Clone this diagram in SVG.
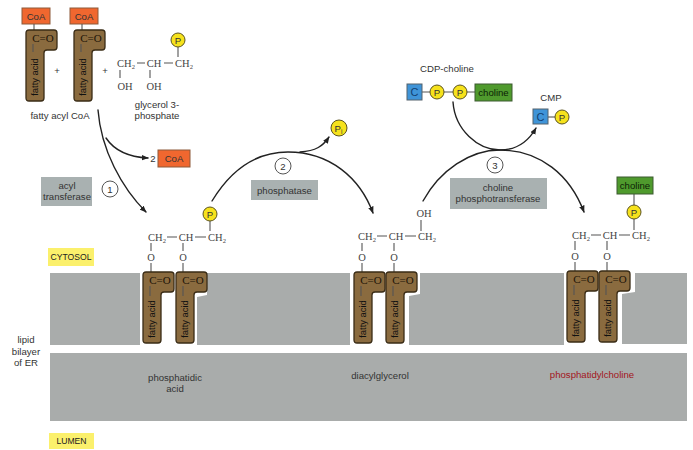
<svg xmlns="http://www.w3.org/2000/svg" width="693" height="450" viewBox="0 0 693 450">
<style>
text{font-family:"Liberation Sans",Arial,sans-serif;font-size:9.6px;fill:#333;text-anchor:middle}
.chem{font-family:"Liberation Serif","Times New Roman",serif;font-size:10.5px;fill:#444}
.co{font-family:"Liberation Serif","Times New Roman",serif;font-size:11px;fill:#1d1408}
.fa{font-size:9.4px;fill:#111}
.small{font-size:6.5px}
.tagtext{font-size:8.6px;fill:#222}
.bond{stroke:#555;stroke-width:1.1;fill:none}
.tail{fill:#8a6b3f;stroke:#3a2c16;stroke-width:1.3}
.mem{fill:#a9acab}
.enz{fill:#a9b1b1}
.tag{fill:#fbf06c}
.coa{fill:#f0672f;stroke:#8d5a3a;stroke-width:1}
.cmp{fill:#3f94d8;stroke:#54626c;stroke-width:1}
.chol{fill:#4f9a2d;stroke:#3d5a30;stroke-width:1}
.pho{fill:#f6e21c;stroke:#5b5320;stroke-width:1}
.num{fill:#fff;stroke:#555;stroke-width:1}
.flow{fill:none;stroke:#222;stroke-width:1.4;stroke-linecap:round}
</style>
<defs>
<marker id="head" viewBox="0 0 10 8" refX="9" refY="4" markerWidth="7" markerHeight="6" markerUnits="userSpaceOnUse" orient="auto">
<path d="M0 0L10 4L0 8Z" fill="#222"/>
</marker>
<path id="acyl" d="M3 0H28Q31 0 31 3V17Q31 20 28 20H21Q18 20 18 23V68Q18 71 15 71H3Q0 71 0 68V3Q0 0 3 0Z"/>
</defs>

<g id="membrane">
<path class="mem" d="M50 273H140V345H50Z"/>
<path class="mem" d="M207 273H350V345H197V297L207 295Z"/>
<path class="mem" d="M420 273H564V345H409V296L420 294Z"/>
<path class="mem" d="M635 273H687V344H622V294L635 292Z"/>
<rect class="mem" x="50" y="353" width="637" height="68"/>
</g>

<g id="connectors">
<path class="flow" marker-end="url(#head)" d="M98 110C101 150 122 188 146 212"/>
<path class="flow" marker-end="url(#head)" d="M106 138C114 150 128 157 148 158"/>
<path class="flow" marker-end="url(#head)" d="M212 201C232 168 258 152 288 152C330 152 360 178 373 213"/>
<path class="flow" marker-end="url(#head)" d="M300 152C316 151 323 146 329 137"/>
<path class="flow" marker-end="url(#head)" d="M423 201C440 170 470 150 500 150C540 150 570 175 584 212"/>
<path class="flow" marker-end="url(#head)" d="M453 102C455 130 478 150 500 150C516 150 528 142 536 128"/>
</g>

<g id="coa-1">
<rect class="coa" x="22" y="8" width="28" height="16"/>
<text x="36" y="19.500">CoA</text>
<path class="bond" d="M34 24V30"/>
</g>
<g id="acyl-1" transform="translate(26 30)">
<use href="#acyl" class="tail"/>
<text class="co" x="17" y="12">C=O</text>
<path class="bond" d="M7 14V22"/>
<text class="fa" transform="translate(12 47) rotate(-90)">fatty acid</text>
</g>
<g id="coa-2">
<rect class="coa" x="70" y="8" width="28" height="16"/>
<text x="84" y="19.500">CoA</text>
<path class="bond" d="M82 24V30"/>
</g>
<g id="acyl-2" transform="translate(74 30)">
<use href="#acyl" class="tail"/>
<text class="co" x="17" y="12">C=O</text>
<path class="bond" d="M7 14V22"/>
<text class="fa" transform="translate(12 47) rotate(-90)">fatty acid</text>
</g>
<text x="57" y="74">+</text>
<text x="105" y="74">+</text>
<text x="60" y="119">fatty acyl CoA</text>

<g id="glycerol-3-phosphate">
<text class="chem" x="126" y="67">CH<tspan class="small" dy="2">2</tspan></text>
<path class="bond" d="M137 63H145M164 63H173"/>
<text class="chem" x="154" y="67">CH</text>
<text class="chem" x="184" y="67">CH<tspan class="small" dy="2">2</tspan></text>
<path class="bond" d="M120 70V78M150 70V78M178 47V57"/>
<text class="chem" x="125" y="90">OH</text>
<text class="chem" x="154" y="90">OH</text>
<circle class="pho" cx="178" cy="40" r="7"/>
<text x="178" y="43.500">P</text>
<text x="157" y="108">glycerol 3-</text>
<text x="157" y="119">phosphate</text>
</g>

<g id="product-coa">
<text x="153" y="162">2</text>
<rect class="coa" x="158" y="150" width="32" height="17"/>
<text x="174" y="162">CoA</text>
</g>

<g id="enzyme-1">
<rect class="enz" x="41" y="177" width="51" height="29"/>
<text x="67" y="189">acyl</text>
<text x="67" y="200">transferase</text>
<circle class="num" cx="110" cy="189" r="8"/>
<text x="110" y="192.500">1</text>
</g>
<g id="enzyme-2">
<circle class="num" cx="283" cy="166" r="8"/>
<text x="283" y="169.500">2</text>
<rect class="enz" x="251" y="180" width="67" height="20"/>
<text x="284.500" y="193.500">phosphatase</text>
</g>
<g id="enzyme-3">
<circle class="num" cx="495" cy="165" r="8"/>
<text x="495" y="168.500">3</text>
<rect class="enz" x="450" y="178" width="97" height="31"/>
<text x="498" y="191">choline</text>
<text x="498" y="202">phosphotransferase</text>
</g>
<g id="inorganic-phosphate">
<circle class="pho" cx="339" cy="128" r="8"/>
<text x="338.500" y="131.500">P<tspan class="small" dy="2">i</tspan></text>
</g>

<g id="cdp-choline">
<text x="447" y="72">CDP-choline</text>
<path class="bond" d="M422 92H475"/>
<rect class="cmp" x="407" y="84" width="15" height="16"/>
<text x="414.500" y="95.500" style="font-size:11px;fill:#123f70">C</text>
<circle class="pho" cx="437" cy="92" r="7"/>
<text x="437" y="95.500">P</text>
<circle class="pho" cx="460" cy="92" r="7"/>
<text x="460" y="95.500">P</text>
<rect class="chol" x="475" y="84" width="37" height="17"/>
<text x="493.500" y="96" style="fill:#0c2206">choline</text>
</g>
<g id="cmp">
<text x="551" y="101">CMP</text>
<path class="bond" d="M548 117H555"/>
<rect class="cmp" x="533" y="109" width="15" height="15"/>
<text x="540.500" y="120.500" style="font-size:11px;fill:#123f70">C</text>
<circle class="pho" cx="562" cy="117" r="7"/>
<text x="562" y="120.500">P</text>
</g>

<g id="phosphatidic-acid">
<text class="chem" x="157" y="241">CH<tspan class="small" dy="2">2</tspan></text>
<text class="chem" x="186" y="241">CH</text>
<text class="chem" x="217" y="241">CH<tspan class="small" dy="2">2</tspan></text>
<path class="bond" d="M167 237H177M195 237H206M151 243V251M183 243V251M151 263V273M183 263V273M210 221V231"/>
<text class="chem" x="151" y="261">O</text>
<text class="chem" x="183" y="261">O</text>
<circle class="pho" cx="210" cy="214" r="7"/>
<text x="210" y="217.500">P</text>
<g transform="translate(143 272)">
<use href="#acyl" class="tail"/>
<text class="co" x="17" y="12">C=O</text>
<path class="bond" d="M7 14V24"/>
<text class="fa" transform="translate(12 47) rotate(-90)">fatty acid</text>
</g>
<g transform="translate(176 272)">
<use href="#acyl" class="tail"/>
<text class="co" x="17" y="12">C=O</text>
<path class="bond" d="M7 14V24"/>
<text class="fa" transform="translate(12 47) rotate(-90)">fatty acid</text>
</g>
<text x="175" y="381">phosphatidic</text>
<text x="175" y="392">acid</text>
</g>

<g id="diacylglycerol">
<text class="chem" x="367" y="240">CH<tspan class="small" dy="2">2</tspan></text>
<text class="chem" x="396" y="240">CH</text>
<text class="chem" x="427" y="240">CH<tspan class="small" dy="2">2</tspan></text>
<path class="bond" d="M377 236H387M405 236H416M362 243V251M394 243V251M362 263V273M394 263V273M421 220V231"/>
<text class="chem" x="362" y="261">O</text>
<text class="chem" x="394" y="261">O</text>
<text class="chem" x="424" y="217">OH</text>
<g transform="translate(354 272)">
<use href="#acyl" class="tail"/>
<text class="co" x="17" y="12">C=O</text>
<path class="bond" d="M7 14V24"/>
<text class="fa" transform="translate(12 47) rotate(-90)">fatty acid</text>
</g>
<g transform="translate(386 272)">
<use href="#acyl" class="tail"/>
<text class="co" x="17" y="12">C=O</text>
<path class="bond" d="M7 14V24"/>
<text class="fa" transform="translate(12 47) rotate(-90)">fatty acid</text>
</g>
<text x="380" y="379">diacylglycerol</text>
</g>

<g id="phosphatidylcholine">
<text class="chem" x="581" y="239">CH<tspan class="small" dy="2">2</tspan></text>
<text class="chem" x="610" y="239">CH</text>
<text class="chem" x="641" y="239">CH<tspan class="small" dy="2">2</tspan></text>
<path class="bond" d="M591 235H601M619 235H630M575 241V250M607 241V250M575 262V272M607 262V272M634 194V205M634 219V230"/>
<text class="chem" x="575" y="260">O</text>
<text class="chem" x="607" y="260">O</text>
<rect class="chol" x="617" y="177" width="36" height="17"/>
<text x="635" y="189" style="fill:#0c2206">choline</text>
<circle class="pho" cx="634" cy="212" r="7"/>
<text x="634" y="215.500">P</text>
<g transform="translate(567 271)">
<use href="#acyl" class="tail"/>
<text class="co" x="17" y="12">C=O</text>
<path class="bond" d="M7 14V24"/>
<text class="fa" transform="translate(12 47) rotate(-90)">fatty acid</text>
</g>
<g transform="translate(599 271)">
<use href="#acyl" class="tail"/>
<text class="co" x="17" y="12">C=O</text>
<path class="bond" d="M7 14V24"/>
<text class="fa" transform="translate(12 47) rotate(-90)">fatty acid</text>
</g>
<text x="592" y="378" style="fill:#a3161c">phosphatidylcholine</text>
</g>

<g id="compartment-labels">
<rect class="tag" x="48" y="248" width="46" height="18"/>
<text class="tagtext" x="71" y="260">CYTOSOL</text>
<rect class="tag" x="49" y="433" width="45" height="16"/>
<text class="tagtext" x="71.500" y="444">LUMEN</text>
<text x="26" y="343">lipid</text>
<text x="26" y="355">bilayer</text>
<text x="26" y="366">of ER</text>
</g>
</svg>
